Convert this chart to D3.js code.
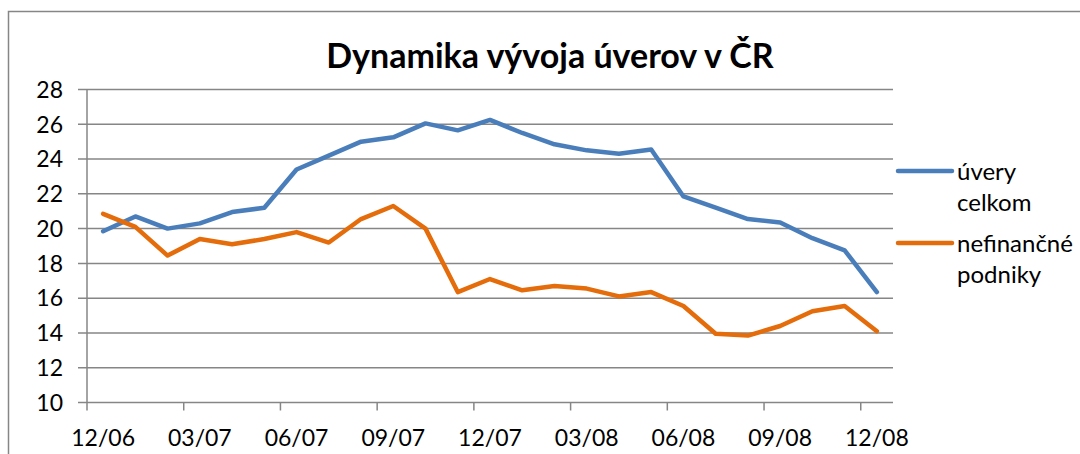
<!DOCTYPE html>
<html>
<head>
<meta charset="utf-8">
<script src="https://cdn.jsdelivr.net/npm/d3@7"></script>
<style>
  body { margin: 0; background: #fff; }
  svg { display: block; font-family: Lato, "Noto Sans", sans-serif; }
</style>
</head>
<body>
<svg class="chart" width="1080" height="454"></svg>
<script>
// Months, one point per month.
var months = ["12/06", "01/07", "02/07", "03/07", "04/07", "05/07", "06/07", "07/07", "08/07",
  "09/07", "10/07", "11/07", "12/07", "01/08", "02/08", "03/08", "04/08", "05/08", "06/08",
  "07/08", "08/08", "09/08", "10/08", "11/08", "12/08"];

var uveryCelkom = [19.85, 20.7, 20.0, 20.3, 20.95, 21.2, 23.4, 24.2, 25.0, 25.25, 26.05, 25.65,
  26.25, 25.5, 24.85, 24.5, 24.3, 24.55, 21.85, 21.2, 20.55, 20.35, 19.45, 18.75, 16.35];

var nefinancnePodniky = [20.85, 20.1, 18.45, 19.4, 19.1, 19.4, 19.8, 19.2, 20.55, 21.3, 20.0,
  16.35, 17.1, 16.45, 16.7, 16.55, 16.1, 16.35, 15.55, 13.95, 13.85, 14.4, 15.25, 15.55, 14.1];

var yTicks = [10, 12, 14, 16, 18, 20, 22, 24, 26, 28];
var xLabels = ["12/06", "03/07", "06/07", "09/07", "12/07", "03/08", "06/08", "09/08", "12/08"];

var seriesNames = [["úvery", "celkom"], ["nefinančné", "podniky"]];
var colors = ["#4a7ebb", "#e46c0a"];

function drawChart() {

  var svg = d3.select(".chart");

  // Outer frame (runs off the right and bottom edges).
  svg.append("rect")
      .attr("x", 8.5).attr("y", 11.5)
      .attr("width", 1200).attr("height", 600)
      .attr("fill", "none")
      .attr("stroke", "#868686")
      .attr("stroke-width", 1.5);

  // Title.
  svg.append("text")
      .attr("x", 550)
      .attr("y", 68)
      .attr("text-anchor", "middle")
      .style("font-size", "34px")
      .style("font-weight", "bold")
      .text("Dynamika vývoja úverov v ČR");

  var plot = {left: 87, right: 893, top: 89.5, bottom: 402.5};

  var x = d3.scaleBand()
      .domain(months)
      .range([plot.left, plot.right]);

  var y = d3.scaleLinear()
      .domain([10, 28])
      .range([plot.bottom, plot.top]);

  var g = svg.append("g");

  // Horizontal gridlines.
  g.selectAll(".grid")
      .data(yTicks)
    .enter().append("line")
      .attr("class", "grid")
      .attr("x1", plot.left - 9)
      .attr("x2", plot.right)
      .attr("y1", function(d) { return y(d); })
      .attr("y2", function(d) { return y(d); })
      .attr("stroke", "#868686")
      .attr("stroke-width", 1.5);

  // Y axis line.
  g.append("line")
      .attr("x1", plot.left).attr("x2", plot.left)
      .attr("y1", plot.top).attr("y2", plot.bottom)
      .attr("stroke", "#868686")
      .attr("stroke-width", 1.5);

  // Y tick labels.
  g.selectAll(".ylabel")
      .data(yTicks)
    .enter().append("text")
      .attr("class", "ylabel")
      .attr("x", plot.left - 24)
      .attr("y", function(d) { return y(d); })
      .attr("dy", "0.36em")
      .attr("text-anchor", "end")
      .style("font-size", "23px")
      .text(function(d) { return d; });

  // X ticks at category boundaries, every third month.
  g.selectAll(".xtick")
      .data(xLabels)
    .enter().append("line")
      .attr("class", "xtick")
      .attr("x1", function(d) { return x(d); })
      .attr("x2", function(d) { return x(d); })
      .attr("y1", plot.bottom)
      .attr("y2", plot.bottom + 8)
      .attr("stroke", "#868686")
      .attr("stroke-width", 1.5);

  g.selectAll(".xlabel")
      .data(xLabels)
    .enter().append("text")
      .attr("class", "xlabel")
      .attr("x", function(d) { return x(d) + x.bandwidth() / 2; })
      .attr("y", 446)
      .attr("text-anchor", "middle")
      .style("font-size", "23px")
      .text(function(d) { return d; });

  // Lines.
  var line = d3.line()
      .x(function(d, i) { return x(months[i]) + x.bandwidth() / 2; })
      .y(function(d) { return y(d); });

  [uveryCelkom, nefinancnePodniky].forEach(function(values, k) {
    g.append("path")
        .datum(values)
        .attr("d", line)
        .attr("fill", "none")
        .attr("stroke", colors[k])
        .attr("stroke-width", 4.5)
        .attr("stroke-linejoin", "round")
        .attr("stroke-linecap", "round");
  });

  // Legend.
  var legend = svg.selectAll(".legend")
      .data(seriesNames)
    .enter().append("g")
      .attr("class", "legend")
      .attr("transform", function(d, i) { return "translate(898," + (171 + i * 72) + ")"; });

  legend.append("line")
      .attr("x1", 0).attr("x2", 54)
      .attr("stroke", function(d, i) { return colors[i]; })
      .attr("stroke-width", 4.5)
      .attr("stroke-linecap", "round");

  legend.append("text")
      .attr("x", 59)
      .style("font-size", "24px")
    .selectAll("tspan")
      .data(function(d) { return d; })
    .enter().append("tspan")
      .attr("x", 59)
      .attr("dy", function(d, i) { return i === 0 ? "0.36em" : "1.3em"; })
      .text(function(d) { return d; });
}

drawChart();
</script>
</body>
</html>
